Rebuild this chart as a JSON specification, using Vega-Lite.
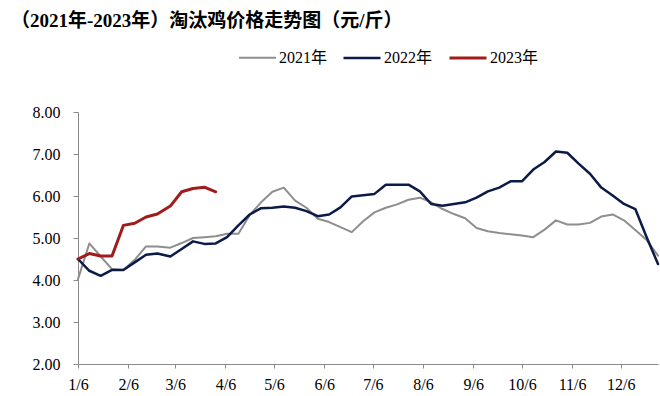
{
  "$schema": "https://vega.github.io/schema/vega-lite/v6.json",
  "width": 580,
  "height": 252,
  "autosize": {"type": "none"},
  "padding": {"left": 78, "top": 112, "right": 2, "bottom": 32},
  "background": "white",
  "title": {
    "text": "（2021年-2023年）淘汰鸡价格走势图（元/斤）",
    "anchor": "start",
    "frame": "group",
    "dx": -67,
    "offset": 7,
    "font": "Times New Roman, Liberation Serif, Noto Sans CJK SC, serif",
    "fontSize": 19,
    "fontWeight": "bold",
    "color": "#000000"
  },
  "config": {
    "view": {"stroke": null},
    "axis": {
      "domainColor": "#8a8a8a",
      "tickColor": "#8a8a8a",
      "grid": false,
      "labelFont": "Times New Roman, Liberation Serif, serif",
      "labelFontSize": 16,
      "labelColor": "#000000",
      "labelFlush": false,
      "labelOverlap": false
    },
    "legend": {
      "labelFont": "Times New Roman, Liberation Serif, Noto Sans CJK SC, serif",
      "labelFontSize": 16,
      "labelColor": "#000000"
    }
  },
  "datasets": {
    "prices": [
      {"series": "2021年", "date": "2021-01-06", "price": 4.02},
      {"series": "2021年", "date": "2021-01-13", "price": 4.87},
      {"series": "2021年", "date": "2021-01-20", "price": 4.56},
      {"series": "2021年", "date": "2021-01-27", "price": 4.26},
      {"series": "2021年", "date": "2021-02-03", "price": 4.24},
      {"series": "2021年", "date": "2021-02-10", "price": 4.48},
      {"series": "2021年", "date": "2021-02-17", "price": 4.80},
      {"series": "2021年", "date": "2021-02-24", "price": 4.80},
      {"series": "2021年", "date": "2021-03-03", "price": 4.77},
      {"series": "2021年", "date": "2021-03-10", "price": 4.88},
      {"series": "2021年", "date": "2021-03-17", "price": 5.00},
      {"series": "2021年", "date": "2021-03-24", "price": 5.02},
      {"series": "2021年", "date": "2021-03-31", "price": 5.04},
      {"series": "2021年", "date": "2021-04-07", "price": 5.10},
      {"series": "2021年", "date": "2021-04-14", "price": 5.10},
      {"series": "2021年", "date": "2021-04-21", "price": 5.55},
      {"series": "2021年", "date": "2021-04-28", "price": 5.85},
      {"series": "2021年", "date": "2021-05-05", "price": 6.10},
      {"series": "2021年", "date": "2021-05-12", "price": 6.20},
      {"series": "2021年", "date": "2021-05-19", "price": 5.89},
      {"series": "2021年", "date": "2021-05-26", "price": 5.72},
      {"series": "2021年", "date": "2021-06-02", "price": 5.46},
      {"series": "2021年", "date": "2021-06-09", "price": 5.38},
      {"series": "2021年", "date": "2021-06-16", "price": 5.26},
      {"series": "2021年", "date": "2021-06-23", "price": 5.14},
      {"series": "2021年", "date": "2021-06-30", "price": 5.40},
      {"series": "2021年", "date": "2021-07-07", "price": 5.61},
      {"series": "2021年", "date": "2021-07-14", "price": 5.72},
      {"series": "2021年", "date": "2021-07-21", "price": 5.80},
      {"series": "2021年", "date": "2021-07-28", "price": 5.91},
      {"series": "2021年", "date": "2021-08-04", "price": 5.96},
      {"series": "2021年", "date": "2021-08-11", "price": 5.85},
      {"series": "2021年", "date": "2021-08-18", "price": 5.69},
      {"series": "2021年", "date": "2021-08-25", "price": 5.57},
      {"series": "2021年", "date": "2021-09-01", "price": 5.47},
      {"series": "2021年", "date": "2021-09-08", "price": 5.24},
      {"series": "2021年", "date": "2021-09-15", "price": 5.16},
      {"series": "2021年", "date": "2021-09-22", "price": 5.12},
      {"series": "2021年", "date": "2021-09-29", "price": 5.09},
      {"series": "2021年", "date": "2021-10-06", "price": 5.06},
      {"series": "2021年", "date": "2021-10-13", "price": 5.02},
      {"series": "2021年", "date": "2021-10-20", "price": 5.20},
      {"series": "2021年", "date": "2021-10-27", "price": 5.42},
      {"series": "2021年", "date": "2021-11-03", "price": 5.32},
      {"series": "2021年", "date": "2021-11-10", "price": 5.32},
      {"series": "2021年", "date": "2021-11-17", "price": 5.36},
      {"series": "2021年", "date": "2021-11-24", "price": 5.51},
      {"series": "2021年", "date": "2021-12-01", "price": 5.56},
      {"series": "2021年", "date": "2021-12-08", "price": 5.42},
      {"series": "2021年", "date": "2021-12-15", "price": 5.19},
      {"series": "2021年", "date": "2021-12-22", "price": 4.95},
      {"series": "2021年", "date": "2021-12-29", "price": 4.58},
      {"series": "2022年", "date": "2022-01-06", "price": 4.50},
      {"series": "2022年", "date": "2022-01-13", "price": 4.22},
      {"series": "2022年", "date": "2022-01-20", "price": 4.10},
      {"series": "2022年", "date": "2022-01-27", "price": 4.24},
      {"series": "2022年", "date": "2022-02-03", "price": 4.24},
      {"series": "2022年", "date": "2022-02-10", "price": 4.42},
      {"series": "2022年", "date": "2022-02-17", "price": 4.60},
      {"series": "2022年", "date": "2022-02-24", "price": 4.63},
      {"series": "2022年", "date": "2022-03-03", "price": 4.56},
      {"series": "2022年", "date": "2022-03-10", "price": 4.74},
      {"series": "2022年", "date": "2022-03-17", "price": 4.92},
      {"series": "2022年", "date": "2022-03-24", "price": 4.86},
      {"series": "2022年", "date": "2022-03-31", "price": 4.87},
      {"series": "2022年", "date": "2022-04-07", "price": 5.02},
      {"series": "2022年", "date": "2022-04-14", "price": 5.30},
      {"series": "2022年", "date": "2022-04-21", "price": 5.56},
      {"series": "2022年", "date": "2022-04-28", "price": 5.71},
      {"series": "2022年", "date": "2022-05-05", "price": 5.72},
      {"series": "2022年", "date": "2022-05-12", "price": 5.75},
      {"series": "2022年", "date": "2022-05-19", "price": 5.72},
      {"series": "2022年", "date": "2022-05-26", "price": 5.64},
      {"series": "2022年", "date": "2022-06-02", "price": 5.52},
      {"series": "2022年", "date": "2022-06-09", "price": 5.56},
      {"series": "2022年", "date": "2022-06-16", "price": 5.73},
      {"series": "2022年", "date": "2022-06-23", "price": 5.99},
      {"series": "2022年", "date": "2022-06-30", "price": 6.02},
      {"series": "2022年", "date": "2022-07-07", "price": 6.05},
      {"series": "2022年", "date": "2022-07-14", "price": 6.27},
      {"series": "2022年", "date": "2022-07-21", "price": 6.27},
      {"series": "2022年", "date": "2022-07-28", "price": 6.27},
      {"series": "2022年", "date": "2022-08-04", "price": 6.11},
      {"series": "2022年", "date": "2022-08-11", "price": 5.81},
      {"series": "2022年", "date": "2022-08-18", "price": 5.77},
      {"series": "2022年", "date": "2022-08-25", "price": 5.81},
      {"series": "2022年", "date": "2022-09-01", "price": 5.85},
      {"series": "2022年", "date": "2022-09-08", "price": 5.96},
      {"series": "2022年", "date": "2022-09-15", "price": 6.11},
      {"series": "2022年", "date": "2022-09-22", "price": 6.20},
      {"series": "2022年", "date": "2022-09-29", "price": 6.35},
      {"series": "2022年", "date": "2022-10-06", "price": 6.35},
      {"series": "2022年", "date": "2022-10-13", "price": 6.63},
      {"series": "2022年", "date": "2022-10-20", "price": 6.81},
      {"series": "2022年", "date": "2022-10-27", "price": 7.06},
      {"series": "2022年", "date": "2022-11-03", "price": 7.03},
      {"series": "2022年", "date": "2022-11-10", "price": 6.77},
      {"series": "2022年", "date": "2022-11-17", "price": 6.53},
      {"series": "2022年", "date": "2022-11-24", "price": 6.20},
      {"series": "2022年", "date": "2022-12-01", "price": 6.01},
      {"series": "2022年", "date": "2022-12-08", "price": 5.81},
      {"series": "2022年", "date": "2022-12-15", "price": 5.69},
      {"series": "2022年", "date": "2022-12-22", "price": 5.02},
      {"series": "2022年", "date": "2022-12-29", "price": 4.38},
      {"series": "2023年", "date": "2023-01-06", "price": 4.50},
      {"series": "2023年", "date": "2023-01-13", "price": 4.63},
      {"series": "2023年", "date": "2023-01-20", "price": 4.57},
      {"series": "2023年", "date": "2023-01-27", "price": 4.57},
      {"series": "2023年", "date": "2023-02-03", "price": 5.30},
      {"series": "2023年", "date": "2023-02-10", "price": 5.35},
      {"series": "2023年", "date": "2023-02-17", "price": 5.50},
      {"series": "2023年", "date": "2023-02-24", "price": 5.57},
      {"series": "2023年", "date": "2023-03-03", "price": 5.76},
      {"series": "2023年", "date": "2023-03-10", "price": 6.10},
      {"series": "2023年", "date": "2023-03-17", "price": 6.18},
      {"series": "2023年", "date": "2023-03-24", "price": 6.21},
      {"series": "2023年", "date": "2023-03-31", "price": 6.10}
    ]
  },
  "data": {"name": "prices"},
  "mark": {"type": "line", "strokeJoin": "round", "strokeCap": "round"},
  "encoding": {
    "x": {
      "field": "date",
      "type": "temporal",
      "timeUnit": "utcmonthdate",
      "scale": {
        "type": "utc",
        "domain": [
          {"year": 2012, "month": 1, "date": 6, "utc": true},
          {"year": 2012, "month": 12, "date": 29, "utc": true}
        ]
      },
      "axis": {
        "title": null,
        "format": "%-m/%-d",
        "values": [
          {"year": 2012, "month": 1, "date": 6, "utc": true},
          {"year": 2012, "month": 2, "date": 6, "utc": true},
          {"year": 2012, "month": 3, "date": 6, "utc": true},
          {"year": 2012, "month": 4, "date": 6, "utc": true},
          {"year": 2012, "month": 5, "date": 6, "utc": true},
          {"year": 2012, "month": 6, "date": 6, "utc": true},
          {"year": 2012, "month": 7, "date": 6, "utc": true},
          {"year": 2012, "month": 8, "date": 6, "utc": true},
          {"year": 2012, "month": 9, "date": 6, "utc": true},
          {"year": 2012, "month": 10, "date": 6, "utc": true},
          {"year": 2012, "month": 11, "date": 6, "utc": true},
          {"year": 2012, "month": 12, "date": 6, "utc": true}
        ],
        "tickSize": 4,
        "labelPadding": 8,
        "labelAngle": 0
      }
    },
    "y": {
      "field": "price",
      "type": "quantitative",
      "scale": {"domain": [2, 8], "nice": false, "zero": false},
      "axis": {
        "title": null,
        "values": [2, 3, 4, 5, 6, 7, 8],
        "format": ".2f",
        "tickSize": 5,
        "labelPadding": 13
      }
    },
    "color": {
      "field": "series",
      "type": "nominal",
      "scale": {
        "domain": ["2021年", "2022年", "2023年"],
        "range": ["#8e8e8e", "#0c1a48", "#a01c1c"]
      },
      "legend": {
        "title": null,
        "orient": "none",
        "direction": "horizontal",
        "legendX": 160,
        "legendY": -74,
        "symbolType": "stroke",
        "symbolSize": 1369,
        "symbolStrokeWidth": 2.5,
        "labelOffset": 2,
        "columnPadding": 10
      }
    },
    "strokeWidth": {
      "field": "series",
      "type": "nominal",
      "scale": {"domain": ["2021年", "2022年", "2023年"], "range": [2, 3, 2.5]},
      "legend": null
    }
  }
}
